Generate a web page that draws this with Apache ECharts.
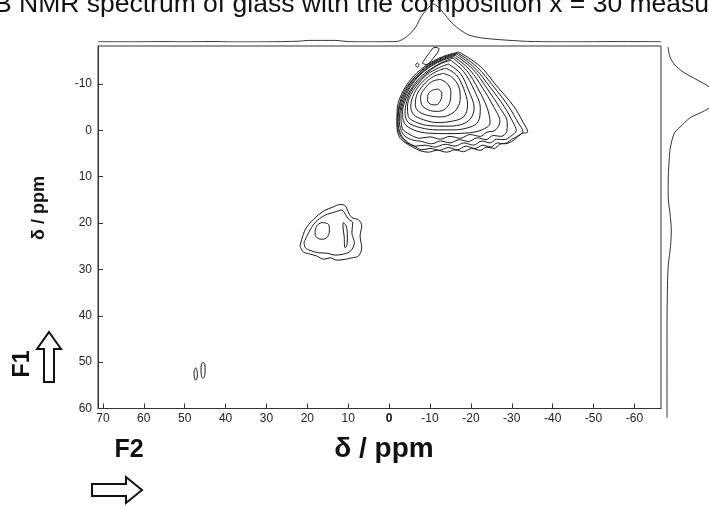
<!DOCTYPE html>
<html>
<head>
<meta charset="utf-8">
<script src="https://cdn.jsdelivr.net/npm/echarts@6/dist/echarts.min.js"></script>
<style>
  html, body { margin: 0; padding: 0; background: #fff; }
  #chart { width: 709px; height: 506px; }
</style>
</head>
<body>
<div id="chart"></div>
<script>
// Axis ticks (ppm)
const f2Ticks = [70, 60, 50, 40, 30, 20, 10, 0, -10, -20, -30, -40, -50, -60];
const f1Ticks = [-10, 0, 10, 20, 30, 40, 50, 60];

// F2 projection (top trace): shift in ppm, intensity in arbitrary units
const topShift = [71.2, 62, 55, 50, 44, 38, 30, 22, 19.8, 13.2, 10, 5, 0, -2.0, -4.4, -6.5, -7.8, -9.3, -10.8, -12.0, -13.0, -15.4, -17.6, -19.8, -23.2, -28.6, -35.5, -45, -55, -66.5];
const topIntensity = [0.3, 0.2, 0.4, 0.2, 0.5, 0.1, 0.2, 0.8, 1.6, 1.6, 0.4, 0.2, 0.3, 0.6, 5.6, 15, 25, 33, 38, 35, 30.5, 19, 11.5, 6.5, 3.8, 1.9, 0.4, 0.2, 0.4, 0.3];

// F1 projection (right trace)
const sideShift = [-18.0, -15.8, -14.1, -12.6, -10.9, -9.4, -7.2, -4.8, -3.75, -2.7, -0.7, 0.35, 2.1, 4.2, 7.0, 10.7, 14.4, 18.0, 21.5, 25.0, 28.6, 32.3, 43.0, 52, 62.0];
const sideIntensity = [1, 3, 8, 16, 30, 42, 52, 42, 33, 23, 13, 8, 5, 3, 2, 1.2, 1.2, 3, 4.3, 3.5, 1.5, 0.6, 0, 0, 0];

// Contour levels of the main cross peak, [F2, F1] in ppm, innermost first
const mainLevel1 = [[-12.1,-8.9],[-12.9,-8.0],[-12.6,-6.5],[-11.5,-5.5],[-10.0,-5.7],[-9.4,-6.6],[-9.6,-7.9],[-10.7,-8.7],[-12.1,-8.9]];
const mainLevel2 = [[-12.5,-11.0],[-14.1,-10.2],[-15.1,-8.4],[-14.9,-6.2],[-13.7,-4.6],[-11.8,-4.1],[-9.6,-4.4],[-8.0,-5.5],[-7.7,-7.3],[-8.8,-9.1],[-10.4,-10.5],[-12.5,-11.0]];
const mainLevel3 = [[-13.3,-12.3],[-15.3,-11.5],[-17.0,-9.5],[-17.4,-7.0],[-16.7,-4.8],[-14.9,-3.4],[-12.5,-2.9],[-9.6,-3.2],[-7.2,-4.1],[-6.4,-5.5],[-6.8,-7.7],[-8.4,-9.8],[-10.8,-11.6],[-13.3,-12.3]];
const mainLevel4 = [[-13.9,-13.4],[-16.4,-12.0],[-18.2,-9.1],[-19.2,-5.5],[-18.2,-2.9],[-14.9,-1.9],[-11.7,-1.7],[-8.4,-2.3],[-6.0,-3.4],[-5.3,-5.2],[-5.8,-7.3],[-7.2,-9.5],[-9.6,-11.6],[-12.1,-12.9],[-13.9,-13.4]];
const mainLevel5 = [[-14.5,-14.3],[-17.4,-12.3],[-19.4,-8.7],[-20.8,-4.8],[-19.8,-2.4],[-17.4,-1.2],[-13.7,-0.9],[-10.0,-1.0],[-6.8,-1.7],[-4.7,-3.0],[-4.5,-5.2],[-5.3,-7.7],[-6.9,-9.8],[-9.2,-12.0],[-12.1,-13.5],[-14.5,-14.3]];
const mainLevel6 = [[-15.1,-15.1],[-18.2,-12.7],[-20.8,-8.7],[-22.3,-4.8],[-21.8,-1.9],[-19.8,-0.7],[-15.7,-0.1],[-11.7,-0.1],[-7.6,-0.6],[-4.7,-1.7],[-3.9,-3.7],[-4.3,-6.2],[-5.5,-8.7],[-7.6,-11.0],[-10.4,-13.2],[-12.9,-14.5],[-15.1,-15.1]];
const mainLevel7 = [[-15.6,-15.6],[-19.0,-12.9],[-21.8,-8.9],[-24.0,-4.8],[-24.7,-1.6],[-22.7,-0.1],[-18.6,0.6],[-14.1,0.7],[-9.6,0.6],[-6.0,-0.1],[-3.7,-1.6],[-3.3,-4.1],[-4.2,-7.0],[-5.8,-9.5],[-8.0,-11.8],[-10.8,-13.6],[-13.3,-14.8],[-15.6,-15.6]];
const mainLevel8 = [[-15.9,-15.9],[-19.8,-13.0],[-22.9,-9.1],[-25.5,-5.2],[-27.1,-1.9],[-25.9,0.0],[-23.9,0.4],[-22.3,1.3],[-19.8,0.9],[-17.4,1.7],[-14.9,1.3],[-12.5,1.9],[-10.0,1.4],[-7.6,1.7],[-5.1,0.9],[-3.2,-0.5],[-2.9,-3.4],[-3.7,-6.6],[-5.3,-9.5],[-7.6,-12.0],[-10.4,-13.9],[-13.3,-15.2],[-15.9,-15.9]];
const mainLevel9 = [[-16.2,-16.2],[-20.5,-13.2],[-23.9,-9.1],[-27.0,-5.0],[-28.9,-1.6],[-28.8,0.2],[-27.3,1.3],[-25.5,1.1],[-23.7,2.0],[-21.6,1.6],[-19.4,2.4],[-17.2,2.0],[-14.9,2.7],[-12.6,2.3],[-10.4,2.9],[-8.0,2.4],[-5.5,2.0],[-3.5,0.9],[-2.5,-1.9],[-2.9,-5.2],[-4.3,-8.4],[-6.8,-11.5],[-9.9,-13.8],[-13.1,-15.3],[-16.2,-16.2]];
const mainLevel10 = [[-16.5,-16.5],[-21.0,-13.4],[-24.7,-9.3],[-28.1,-5.2],[-30.4,-1.6],[-31.1,0.0],[-29.7,1.3],[-28.1,2.0],[-26.3,1.9],[-24.7,2.7],[-22.7,2.3],[-20.6,3.2],[-18.3,2.7],[-16.1,3.4],[-13.7,3.0],[-11.2,3.6],[-8.8,3.2],[-6.4,3.4],[-4.3,2.4],[-2.9,0.9],[-2.2,-1.6],[-2.5,-4.8],[-4.0,-8.4],[-6.4,-11.5],[-9.6,-13.9],[-13.1,-15.5],[-16.5,-16.5]];
const mainLevel11 = [[-16.8,-16.7],[-21.6,-13.6],[-25.5,-9.5],[-29.2,-5.2],[-31.6,-1.6],[-32.7,0.2],[-31.4,1.4],[-30.0,2.4],[-28.1,2.9],[-26.5,2.7],[-24.9,3.6],[-22.9,3.2],[-21.0,3.9],[-18.8,3.4],[-16.7,4.2],[-14.5,3.7],[-12.3,4.3],[-10.0,3.9],[-8.0,4.2],[-6.0,3.3],[-3.9,2.4],[-2.5,0.6],[-2.0,-1.9],[-2.4,-5.2],[-3.8,-8.6],[-6.4,-11.6],[-9.5,-14.0],[-13.1,-15.7],[-16.8,-16.7]];
const mainLevel12 = [[-17.1,-16.9],[-22.3,-13.8],[-26.3,-9.6],[-30.4,-5.3],[-32.8,-1.7],[-33.9,0.3],[-32.4,0.7],[-31.2,1.4],[-30.0,1.9],[-28.8,2.7],[-27.1,3.0],[-25.7,3.9],[-23.9,3.6],[-22.3,4.3],[-20.2,3.9],[-18.2,4.6],[-16.1,4.2],[-14.1,4.7],[-11.8,4.3],[-9.6,4.7],[-7.6,4.4],[-5.8,3.6],[-4.0,2.7],[-2.5,1.4],[-1.9,-1.2],[-2.0,-4.8],[-3.5,-8.6],[-6.1,-11.8],[-9.4,-14.2],[-13.1,-15.9],[-17.1,-16.9]];

// Weak features just above the main peak
const ridgeLoop = [[-8.1,-14.5],[-9.5,-16.3],[-11.2,-17.9],[-12.2,-17.6],[-11.0,-15.8],[-9.0,-14.2],[-8.1,-14.5]];
const ridgeDot = [[-6.9,-14.6],[-7.3,-14.1],[-6.9,-13.6],[-6.5,-14.1],[-6.9,-14.6]];

// Cross peak near (15, 22) ppm
const midLevel1 = [[17.7,20.6],[16.5,19.9],[14.8,20.3],[14.6,21.7],[15.2,23.1],[16.5,23.5],[17.9,22.9],[18.1,21.7],[17.7,20.6]];
const midSliver = [[11.2,19.9],[10.5,20.6],[10.2,22.8],[10.35,24.9],[10.8,25.3],[11.0,22.8],[11.3,20.6],[11.2,19.9]];
const midLevel2 = [[20.8,24.2],[19.7,22.1],[18.1,19.9],[15.7,18.3],[13.2,17.6],[11.6,17.2],[10.7,18.1],[9.9,19.2],[8.9,19.9],[9.1,22.1],[8.5,24.2],[9.4,26.0],[11.2,26.7],[13.2,26.9],[15.2,26.5],[17.3,26.4],[19.3,25.9],[20.5,25.3],[20.8,24.2]];
const midLevel3 = [[21.8,24.9],[20.5,21.4],[18.5,19.2],[16.0,17.4],[13.6,16.5],[12.0,16.0],[10.7,16.3],[9.9,17.8],[9.1,18.8],[7.5,19.3],[6.7,20.6],[7.1,22.8],[6.7,25.3],[7.5,27.1],[9.1,27.5],[10.7,27.8],[12.8,28.0],[14.4,27.5],[16.0,27.8],[17.7,27.1],[19.3,26.7],[21.0,26.2],[21.8,24.9]];

// Two weak peaks near (46, 52) ppm
const farPeakA = [[47.3,51.2],[47.65,51.8],[47.7,52.6],[47.6,53.4],[47.3,53.9],[46.95,53.4],[46.9,52.6],[47.0,51.8],[47.3,51.2]];
const farPeakB = [[45.5,50.0],[45.95,50.6],[46.0,51.7],[45.9,52.9],[45.5,53.5],[45.1,52.9],[45.0,51.7],[45.05,50.6],[45.5,50.0]];

const contours = [
  mainLevel1, mainLevel2, mainLevel3, mainLevel4, mainLevel5, mainLevel6,
  mainLevel7, mainLevel8, mainLevel9, mainLevel10, mainLevel11, mainLevel12,
  ridgeLoop, ridgeDot, midLevel1, midSliver, midLevel2, midLevel3, farPeakA, farPeakB
];

const FONT = '"Liberation Sans", Arial, sans-serif';
const chart = echarts.init(document.getElementById('chart'), null, { renderer: 'canvas' });

const contourSeries = contours.map(function (pts) {
  return {
    type: 'line', xAxisIndex: 0, yAxisIndex: 0,
    data: pts, smooth: 0.35, symbol: 'none', silent: true,
    lineStyle: { color: '#1a1a1a', width: 1 }
  };
});

const option = {
  backgroundColor: '#fff',
  animation: false,
  grid: [
    { left: 98, top: 46, width: 563, height: 362.5, show: true, borderColor: '#333', borderWidth: 1 },
    { left: 98, top: 2, width: 563, height: 40 },
    { left: 667, top: 46, width: 42, height: 374 }
  ],
  xAxis: [
    {
      gridIndex: 0, type: 'value', inverse: true, min: -66.5, max: 71.2,
      axisLine: { show: true, onZero: false, lineStyle: { color: '#333' } },
      axisTick: { show: true, inside: true, length: 5, customValues: f2Ticks, lineStyle: { color: '#333' } },
      axisLabel: {
        customValues: f2Ticks, fontFamily: FONT, fontSize: 12, color: '#222', margin: 4,
        formatter: function (v) { return v === 0 ? '{b|0}' : String(v); },
        rich: { b: { fontWeight: 'bold', fontFamily: FONT, fontSize: 12, color: '#111' } }
      },
      splitLine: { show: false }
    },
    { gridIndex: 1, type: 'value', inverse: true, min: -66.5, max: 71.2, show: false },
    { gridIndex: 2, type: 'value', min: 0, max: 42, show: false }
  ],
  yAxis: [
    {
      gridIndex: 0, type: 'value', inverse: true, min: -18.2, max: 60,
      axisLine: { show: true, onZero: false, lineStyle: { color: '#333' } },
      axisTick: { show: true, inside: true, length: 5, customValues: f1Ticks, lineStyle: { color: '#333' } },
      axisLabel: { customValues: f1Ticks, fontFamily: FONT, fontSize: 12, color: '#222', margin: 6 },
      splitLine: { show: false }
    },
    { gridIndex: 1, type: 'value', min: 0, max: 40, show: false },
    { gridIndex: 2, type: 'value', inverse: true, min: -18.2, max: 62.47, show: false }
  ],
  series: contourSeries.concat([
    {
      type: 'line', xAxisIndex: 1, yAxisIndex: 1, smooth: 0.3, symbol: 'none', silent: true,
      data: topShift.map(function (s, i) { return [s, topIntensity[i]]; }),
      lineStyle: { color: '#333', width: 1 }
    },
    {
      type: 'line', xAxisIndex: 2, yAxisIndex: 2, smooth: 0.3, symbol: 'none', silent: true, clip: false,
      data: sideShift.map(function (s, i) { return [sideIntensity[i], s]; }),
      lineStyle: { color: '#333', width: 1 }
    }
  ]),
  graphic: [
    { type: 'text', x: -6, y: 5, style: { text: 'B NMR spectrum of glass with the composition x = 30 measured', font: '26.5px ' + FONT, fill: '#111', verticalAlign: 'middle' } },
    { type: 'text', x: 39, y: 208, rotation: Math.PI / 2, style: { text: 'δ / ppm', font: 'bold 18px ' + FONT, fill: '#111', align: 'center', verticalAlign: 'middle' } },
    { type: 'text', x: 23, y: 364, rotation: Math.PI / 2, style: { text: 'F1', font: 'bold 23px ' + FONT, fill: '#111', align: 'center', verticalAlign: 'middle' } },
    { type: 'polygon', shape: { points: [[49, 332], [61, 349], [54, 349], [54, 382], [44, 382], [44, 349], [37, 349]] }, style: { fill: '#fff', stroke: '#111', lineWidth: 2 } },
    { type: 'text', x: 384, y: 449, style: { text: 'δ / ppm', font: 'bold 28px ' + FONT, fill: '#111', align: 'center', verticalAlign: 'middle' } },
    { type: 'text', x: 129, y: 450, style: { text: 'F2', font: 'bold 25px ' + FONT, fill: '#111', align: 'center', verticalAlign: 'middle' } },
    { type: 'polygon', shape: { points: [[92, 484], [126, 484], [126, 477], [142, 490], [126, 503], [126, 496], [92, 496]] }, style: { fill: '#fff', stroke: '#111', lineWidth: 2 } }
  ]
};
chart.setOption(option);
</script>
</body>
</html>
